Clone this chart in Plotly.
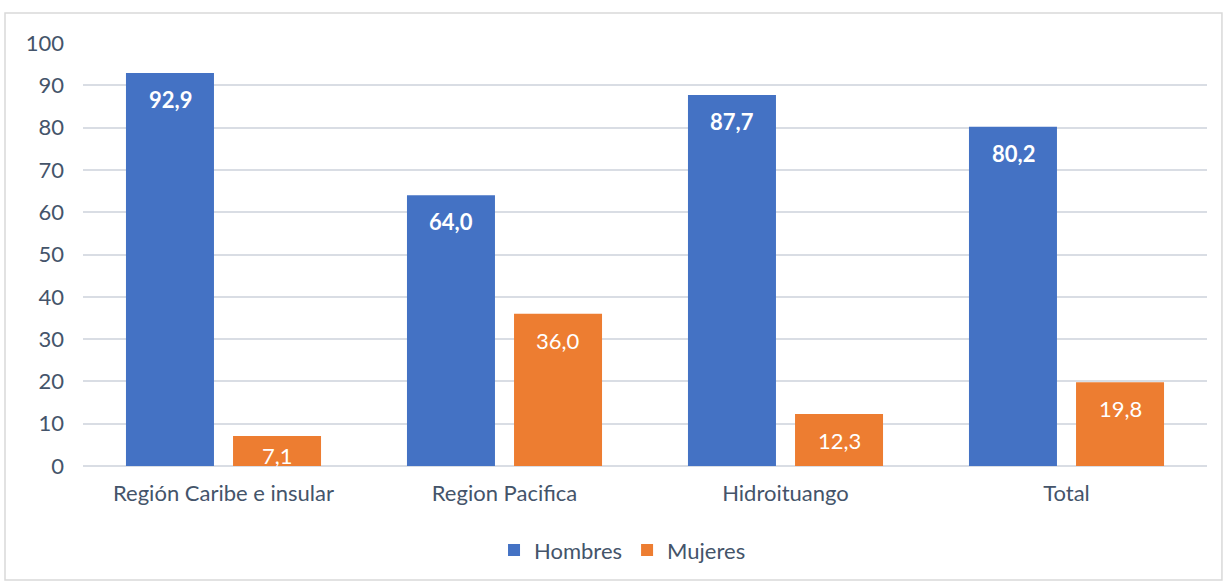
import plotly.graph_objects as go

categorias = ["Región Caribe e insular", "Region Pacifica", "Hidroituango", "Total"]
hombres = [92.9, 64.0, 87.7, 80.2]
mujeres = [7.1, 36.0, 12.3, 19.8]
y_ticks = [0, 10, 20, 30, 40, 50, 60, 70, 80, 90, 100]

FONT = "Lato, 'Open Sans', sans-serif"
TXT = "#44546a"


def etiqueta(v):
    return f"{v:.1f}".replace(".", ",")


fig = go.Figure()
fig.add_trace(go.Bar(name="Hombres", x=categorias, y=hombres,
                     marker=dict(color="#4472c4", line=dict(width=0))))
fig.add_trace(go.Bar(name="Mujeres", x=categorias, y=mujeres,
                     marker=dict(color="#ed7d31", line=dict(width=0))))

# etiquetas de datos (dentro de la barra, cerca del extremo)
anotaciones = []
for serie, desp, negrita in [(hombres, -53.5, True), (mujeres, 53.5, False)]:
    for cat, v in zip(categorias, serie):
        texto = etiqueta(v)
        if negrita:
            texto = "<b>" + texto + "</b>"
        # barras muy bajas: la etiqueta sube un poco
        sy = -11 if v > 10 else -4
        anotaciones.append(dict(x=cat, y=v, xref="x", yref="y", text=texto,
                                showarrow=False, xshift=desp, yshift=sy,
                                yanchor="top",
                                font=dict(color="white", size=22, family=FONT)))

fig.update_layout(
    width=1224, height=583,
    margin=dict(l=83, r=17, t=43, b=117),
    paper_bgcolor="white", plot_bgcolor="white",
    barmode="group", bargap=0.238, bargroupgap=0.178,
    font=dict(family=FONT, size=22, color=TXT),
    showlegend=True,
    legend=dict(orientation="h", x=0.48, xanchor="center", y=-0.199, yanchor="middle",
                font=dict(size=22, color=TXT)),
    xaxis=dict(showgrid=False, showline=False, ticks="", ticklabelstandoff=12,
               tickfont=dict(size=22, color=TXT)),
    yaxis=dict(range=[0, 100], tickvals=y_ticks, showgrid=True, gridcolor="#d9dde4",
               gridwidth=1.5, zeroline=True, zerolinecolor="#d9dde4", zerolinewidth=1.5,
               tickfont=dict(size=22, color=TXT), ticks="", ticklabelstandoff=18),
    annotations=anotaciones,
    shapes=[dict(type="rect", xref="paper", yref="paper", x0=-0.0694, x1=1.0133,
                 y0=-0.2695, y1=1.071, line=dict(color="#d9d9d9", width=1.5),
                 layer="below")],
)

fig.write_html("out.html", config={"displayModeBar": False},
               post_script="document.body.style.margin='0';")
